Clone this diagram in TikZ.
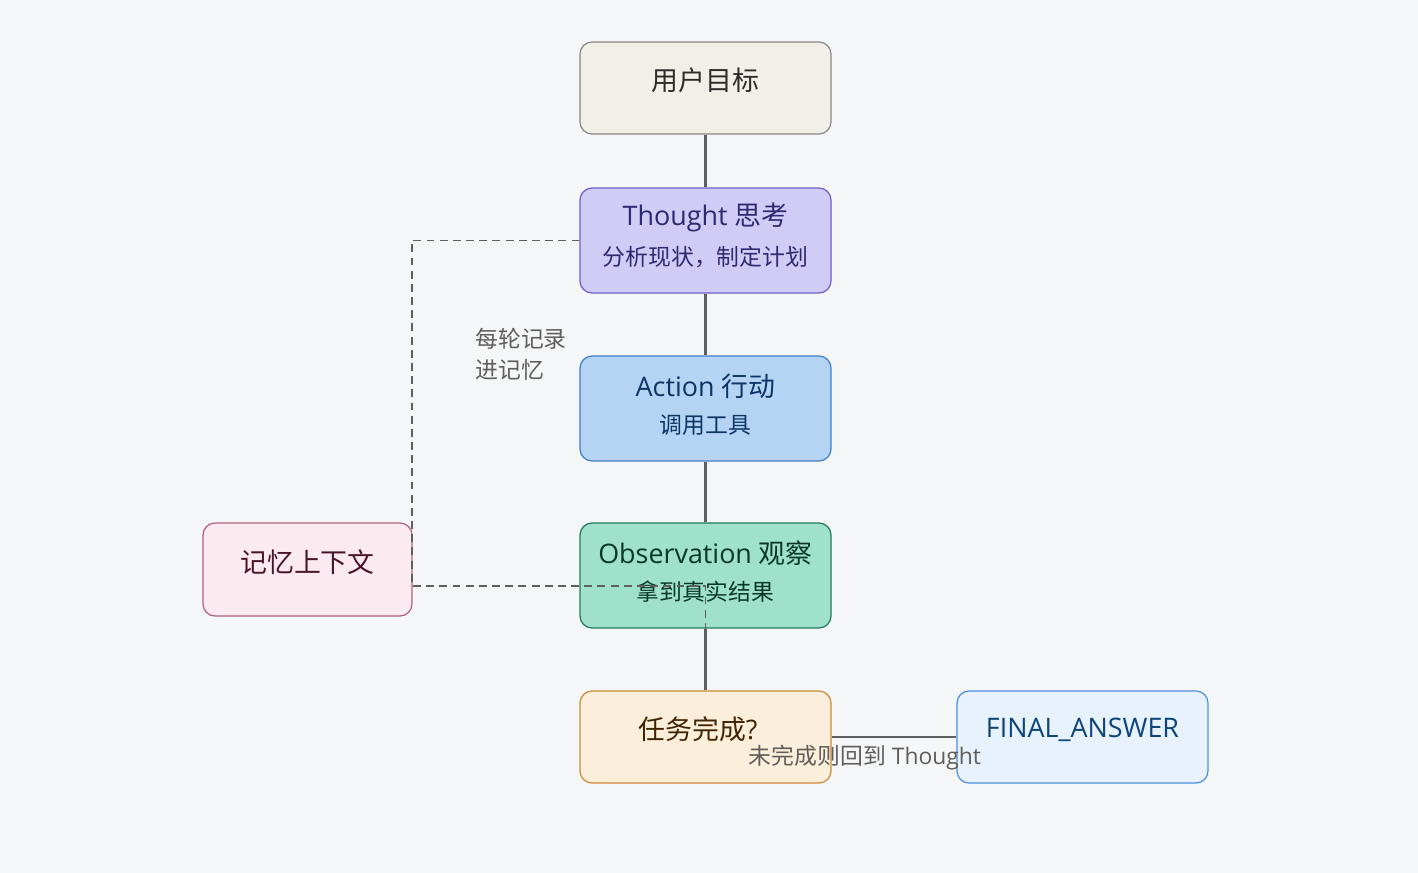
\documentclass[tikz,border=0pt]{standalone}
\usepackage{fontspec}
\setmainfont{Open Sans}
\newfontfamily\cjk{Noto Sans CJK SC}
\usepackage{xcolor}
\usetikzlibrary{positioning}

\definecolor{bgc}{HTML}{F5F6F8}
\definecolor{linec}{HTML}{5F5F5F}
\definecolor{goalfill}{HTML}{F2EFE9}
\definecolor{goaldraw}{HTML}{8A8884}
\definecolor{goaltext}{HTML}{2C2C2A}
\definecolor{thfill}{HTML}{D0CCF6}
\definecolor{thdraw}{HTML}{6C5FC8}
\definecolor{thtext}{HTML}{2E2A72}
\definecolor{acfill}{HTML}{B5D4F4}
\definecolor{acdraw}{HTML}{3F80C8}
\definecolor{actext}{HTML}{0C3566}
\definecolor{obfill}{HTML}{A0E1CB}
\definecolor{obdraw}{HTML}{1F7A5A}
\definecolor{obtext}{HTML}{08382A}
\definecolor{tkfill}{HTML}{FBEEDB}
\definecolor{tkdraw}{HTML}{CC8A3A}
\definecolor{tktext}{HTML}{412402}
\definecolor{fafill}{HTML}{E8F2FC}
\definecolor{fadraw}{HTML}{4A90E2}
\definecolor{fatext}{HTML}{0C447C}
\definecolor{mmfill}{HTML}{FBEAF0}
\definecolor{mmdraw}{HTML}{B0607E}
\definecolor{mmtext}{HTML}{4B1528}
\definecolor{notec}{HTML}{5F5E5A}

\begin{document}
\begin{tikzpicture}[x=0.02cm, y=-0.02cm]
    \tikzset{
        step_box/.style={draw, shape = rectangle, rounded corners=6.8pt, line width=0.7pt,
                         minimum width=5.02cm, minimum height=2.1cm, inner sep=0pt},
        short_box/.style={step_box, minimum height=1.84cm},
        title_txt/.style={font=\fontsize{15.3}{18}\selectfont, inner sep=0pt},
        sub_txt/.style={font=\fontsize{13}{16}\selectfont, inner sep=0pt},
        note_txt/.style={font=\fontsize{13}{17.6}\selectfont, text=notec, inner sep=0pt},
        flow/.style={draw=linec, line width=1.3pt},
        mem_link/.style={draw=linec, line width=0.9pt, dash pattern=on 4.5pt off 3pt}
    }
    \fill[bgc] (0,0) rectangle (1418,873);
    \useasboundingbox (0,0) rectangle (1418,873);

    % boxes
    \node[short_box, fill=goalfill, draw=goaldraw] (goal) at (705.5,88) {};
    \node[step_box, fill=thfill, draw=thdraw] (thought) at (705.5,240.5) {};
    \node[step_box, fill=acfill, draw=acdraw] (action) at (705.5,408.5) {};
    \node[step_box, fill=obfill, draw=obdraw] (obs) at (705.5,575.5) {};
    \node[short_box, fill=tkfill, draw=tkdraw] (task) at (705.5,737) {};
    \node[short_box, fill=fafill, draw=fadraw] (final) at (1082.5,737) {};
    \node[short_box, fill=mmfill, draw=mmdraw, minimum width=4.18cm, minimum height=1.86cm] (mem) at (307.5,569.5) {};

    % texts
    \node[title_txt, text=goaltext] (goal_t) at (705.5,80) {\cjk 用户目标};
    \node[title_txt, text=thtext] (thought_t) at (705.5,217.5) {Thought {\cjk 思考}};
    \node[sub_txt, text=thtext] (thought_s) at (705.5,257) {\cjk 分析现状，制定计划};
    \node[title_txt, text=actext] (action_t) at (705.5,386.5) {Action {\cjk 行动}};
    \node[sub_txt, text=actext] (action_s) at (705.5,425) {\cjk 调用工具};
    \node[title_txt, text=obtext] (obs_t) at (705.5,553.5) {Observation {\cjk 观察}};
    \node[sub_txt, text=obtext] (obs_s) at (705.5,592) {\cjk 拿到真实结果};
    \node[title_txt, text=tktext] (task_t) at (698,729.5) {{\cjk 任务完成}?};
    \node[title_txt, text=fatext] (final_t) at (1082.5,730) {FINAL\_ANSWER};
    \node[title_txt, text=mmtext] (mem_t) at (307.5,562) {\cjk 记忆上下文};

    % connectors
    \path[flow] (goal) -- (thought);
    \path[flow] (thought) -- (action);
    \path[flow] (action) -- (obs);
    \path[flow] (obs) -- (task);
    \path[flow] (task) -- (final);
    \coordinate (mem_in) at (412,586);
    \path[mem_link] (thought.west) -| (mem_in) -- (mem_in -| obs) -- (task.north);

    % labels
    \node[note_txt, anchor=west, align=left] (mem_note) at (475,354) {\cjk 每轮记录\\\cjk 进记忆};
    \node[note_txt] (back_note) at (865,758) {{\cjk 未完成则回到} Thought};
\end{tikzpicture}
\end{document}
